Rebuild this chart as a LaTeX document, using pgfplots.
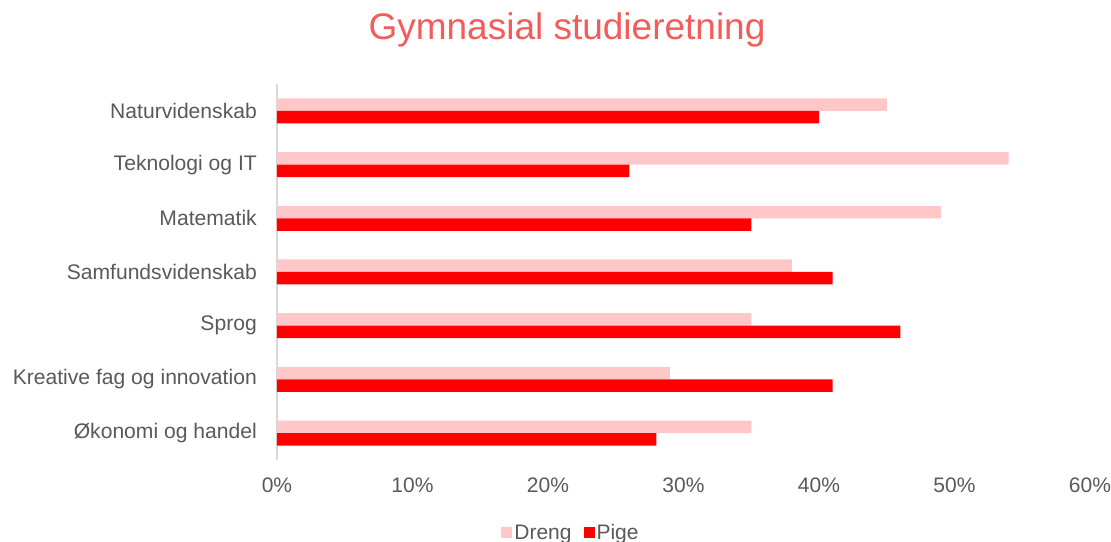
\documentclass[border=0pt]{standalone}
\usepackage{fontspec}
\setmainfont{Liberation Sans}
\usepackage{pgfplots}
\pgfplotsset{compat=1.18}
\definecolor{dreng}{HTML}{FFC7C7}
\definecolor{pige}{HTML}{FF0000}
\definecolor{txt}{HTML}{595959}
\definecolor{ttl}{HTML}{F45B5B}
\definecolor{axl}{HTML}{D9D9D9}
\begin{document}
\begin{tikzpicture}
\useasboundingbox (-277bp,-82bp) rectangle (834bp,460bp);
\begin{axis}[
  at={(0,0)}, anchor=south west,
  scale only axis,
  width=813bp, height=376bp,
  xmin=0, xmax=60,
  ymin=-0.5, ymax=6.5,
  xbar, bar width=12.5bp,
  axis x line=none,
  axis y line*=left,
  axis line style={axl, line width=1.5bp},
  y axis line style={-},
  xtick={0,10,20,30,40,50,60},
  ytick={0,1,2,3,4,5,6},
  yticklabels={Økonomi og handel,Kreative fag og innovation,Sprog,Samfundsvidenskab,Matematik,Teknologi og IT,Naturvidenskab},
  major tick length=0pt,
  tick style={draw=none},
  yticklabel style={font=\fontsize{21.1bp}{25bp}\selectfont, text=txt, inner sep=0pt, anchor=east, xshift=-20bp},
  clip=false,
  legend columns=2,
  legend style={at={(0.3616,-0.194)}, anchor=center, draw=none, fill=none,
    font=\fontsize{21bp}{25bp}\selectfont, text=txt,
    /tikz/every even column/.append style={column sep=10bp}},
  legend image code/.code={\fill[#1] (-4bp,-5.5bp) rectangle (7bp,5.5bp);},
]
\addplot[fill=dreng, draw=none, bar shift=6.25bp] coordinates {(35,0) (29,1) (35,2) (38,3) (49,4) (54,5) (45,6)};
\addlegendentry{Dreng}
\addplot[fill=pige, draw=none, bar shift=-6.25bp] coordinates {(28,0) (41,1) (46,2) (41,3) (35,4) (26,5) (40,6)};
\addlegendentry{Pige}
\foreach \v in {0,10,20,30,40,50,60} {
  \edef\tmp{\noexpand\node[font=\noexpand\fontsize{21bp}{25bp}\noexpand\selectfont, text=txt, anchor=center] at (axis cs:\v,-0.5) [yshift=-25bp] {\v\noexpand\%};}
  \tmp
}
\end{axis}
\node[font=\fontsize{37bp}{44bp}\selectfont, text=ttl] at (290bp,430bp) {Gymnasial studieretning};
\end{tikzpicture}
\end{document}
